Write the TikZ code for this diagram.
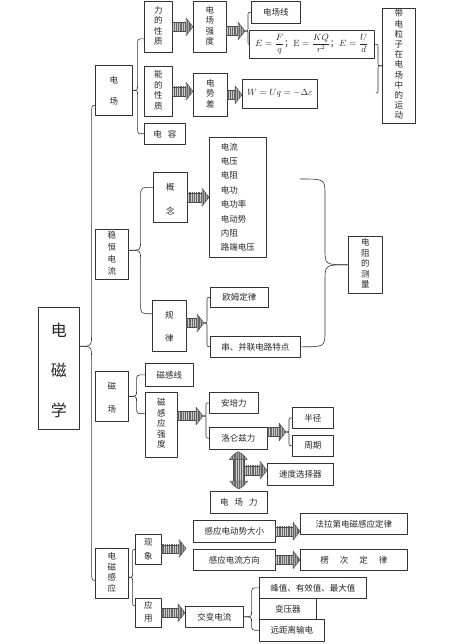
\documentclass[tikz,border=0pt]{standalone}
\usepackage{amsmath}
\usepackage{fontspec}
\newfontfamily\cjk{Noto Sans CJK SC}
\usetikzlibrary{calc}
\usetikzlibrary{patterns.meta}

\tikzset{
  box/.style={draw=black!80,line width=0.6pt,anchor=north west,inner sep=1pt,text=black!85,font=\cjk\fontsize{8.5}{10.5}\selectfont},
  brace/.style={draw=black!80,line width=0.6pt},
  arrbody/.style={fill=gray!40,postaction={pattern={Lines[angle=90,distance=1.8pt,line width=0.8pt]},pattern color=black!60},postaction={draw=black!70,line width=0.4pt}},
  arrhead/.style={arrbody,fill=gray!65}
}

% one character per line
\newcommand{\vtext}[1]{\begin{tabular}{@{}c@{}}#1\end{tabular}}
% striped block arrow, #1 start, #2 tip (same height)
\newcommand{\fatarr}[2]{%
  \path[arrbody] ($(#1)+(0,-4.5)$) rectangle ($(#2)+(-6,4.5)$);
  \path[arrhead] ($(#2)+(-7,-9)$) .. controls ($(#2)+(-3,-5)$) .. (#2) .. controls ($(#2)+(-3,5)$) .. ($(#2)+(-7,9)$) -- cycle;
}
% vertical double block arrow, #1 top tip, #2 bottom tip
\newcommand{\fatdarr}[2]{%
  \path[arrbody] ($(#1)+(-5,7)$) rectangle ($(#2)+(5,-7)$);
  \path[arrhead] ($(#1)+(-9,8)$) .. controls ($(#1)+(-5,3)$) .. (#1) .. controls ($(#1)+(5,3)$) .. ($(#1)+(9,8)$) -- cycle;
  \path[arrhead] ($(#2)+(-9,-8)$) .. controls ($(#2)+(-5,-3)$) .. (#2) .. controls ($(#2)+(5,-3)$) .. ($(#2)+(9,-8)$) -- cycle;
}
% curly brace: #1 tip, #2 top end, #3 bottom end, #4 offset of the stem, #5 curl
\newcommand{\cbrace}[5]{%
  \coordinate (bv) at ($(#1)+(#4,0)$);
  \draw[brace] (#2) .. controls (#2 -| bv) .. ($(#2 -| bv)+(0,#5)$) -- ($(bv)+(0,-#5)$) .. controls (bv) .. (#1);
  \draw[brace] (#3) .. controls (#3 -| bv) .. ($(#3 -| bv)+(0,-#5)$) -- ($(bv)+(0,#5)$) .. controls (bv) .. (#1);
}

\begin{document}
\begin{tikzpicture}[line cap=round,line join=round,x=1pt,y=-1pt]
        \fill[white] (0,0) rectangle (474,644);
        \useasboundingbox (0,0) rectangle (474,644);
        % main box
        \node[box,minimum width=41pt,minimum height=114pt,font=\cjk\fontsize{16}{40}\selectfont] (dcx) at (38,307) {\vtext{电\\磁\\学}};
        % electric field
        \node[box,minimum width=37pt,minimum height=50pt,font=\cjk\fontsize{8.5}{21}\selectfont] (dc) at (95,65) {\vtext{电\\场}};
        \node[box,minimum width=28pt,minimum height=51pt] (lixing) at (144,1) {\vtext{力\\的\\性\\质}};
        \node[box,minimum width=33pt,minimum height=51pt] (cqd) at (193,1) {\vtext{电\\场\\强\\度}};
        \node[box,minimum width=49pt,minimum height=22pt] (dcxian) at (251,1) {电场线};
        \node[box,minimum width=125pt,minimum height=28pt,font=\cjk\fontsize{9}{10.5}\selectfont] (gongshi) at (249,30) {$E=\dfrac{F}{q}$；$\mathrm{E}=\dfrac{KQ}{r^{2}}$；$E=\dfrac{U}{d}$};
        \node[box,minimum width=28pt,minimum height=50pt] (nengxing) at (144,66) {\vtext{能\\的\\性\\质}};
        \node[box,minimum width=34pt,minimum height=43pt] (dsc) at (193,73) {\vtext{电\\势\\差}};
        \node[box,minimum width=75pt,minimum height=29pt,font=\cjk\fontsize{9.5}{10.5}\selectfont] (wgs) at (242,79) {$W=Uq=-\Delta\varepsilon$};
        \node[box,minimum width=41pt,minimum height=21pt] (dr) at (144,123) {电\hspace{6pt}容};
        \node[box,minimum width=33pt,minimum height=115pt,font=\cjk\fontsize{8.5}{10.2}\selectfont] (ydlz) at (382,8) {\vtext{带\\电\\粒\\子\\在\\电\\场\\中\\的\\运\\动}};
        % steady current
        \node[box,minimum width=33pt,minimum height=50pt,font=\cjk\fontsize{8.5}{12}\selectfont] (wdl) at (95,229) {\vtext{稳\\恒\\电\\流}};
        \node[box,minimum width=34pt,minimum height=50pt,font=\cjk\fontsize{8.5}{24}\selectfont] (gn) at (153,172) {\vtext{概\\念}};
        \node[box,minimum width=57pt,minimum height=120pt,align=left,font=\cjk\fontsize{8.5}{14.4}\selectfont] (gnlist) at (209,137) {电流\\电压\\电阻\\电功\\电功率\\电动势\\内阻\\路端电压};
        \node[box,minimum width=34pt,minimum height=51pt,font=\cjk\fontsize{8.5}{23}\selectfont] (gl) at (152,300) {\vtext{规\\律}};
        \node[box,minimum width=58pt,minimum height=20pt] (om) at (210,287) {欧姆定律};
        \node[box,minimum width=90pt,minimum height=21pt] (cb) at (210,336) {串、并联电路特点};
        \node[box,minimum width=34pt,minimum height=57pt] (dzcl) at (348,236) {\vtext{电\\阻\\的\\测\\量}};
        % magnetic field
        \node[box,minimum width=33pt,minimum height=50pt,font=\cjk\fontsize{8.5}{23}\selectfont] (cc) at (95,371) {\vtext{磁\\场}};
        \node[box,minimum width=48pt,minimum height=23pt] (cgx) at (145,363) {磁感线};
        \node[box,minimum width=32pt,minimum height=65pt] (cgqd) at (145,392) {\vtext{磁\\感\\应\\强\\度}};
        \node[box,minimum width=49pt,minimum height=21pt] (apl) at (209,392) {安培力};
        \node[box,minimum width=58pt,minimum height=22pt] (llz) at (209,427) {洛仑兹力};
        \node[box,minimum width=41pt,minimum height=21pt] (bj) at (292,407) {半径};
        \node[box,minimum width=41pt,minimum height=21pt] (zq) at (292,435) {周期};
        \node[box,minimum width=66pt,minimum height=22pt] (sdxz) at (267,463) {速度选择器};
        \node[box,minimum width=57pt,minimum height=22pt] (dcl) at (210,491) {电\hspace{6pt}场\hspace{6pt}力};
        % induction
        \node[box,minimum width=33pt,minimum height=50pt] (dcgy) at (95,548) {\vtext{电\\磁\\感\\应}};
        \node[box,minimum width=26pt,minimum height=29pt,font=\cjk\fontsize{8.5}{14}\selectfont] (xx) at (135,534) {\vtext{现\\象}};
        \node[box,minimum width=26pt,minimum height=29pt,font=\cjk\fontsize{8.5}{13}\selectfont] (yy) at (135,598) {\vtext{应\\用}};
        \node[box,minimum width=82pt,minimum height=22pt] (gydds) at (193,520) {感应电动势大小};
        \node[box,minimum width=82pt,minimum height=21pt] (gydlfx) at (193,549) {感应电流方向};
        \node[box,minimum width=107pt,minimum height=21pt] (flds) at (300,513) {法拉第电磁感应定律};
        \node[box,minimum width=107pt,minimum height=21pt] (lcdl) at (300,549) {楞\hspace{11pt}次\hspace{11pt}定\hspace{11pt}律};
        \node[box,minimum width=58pt,minimum height=21pt] (jbdl) at (185,606) {交变电流};
        \node[box,minimum width=107pt,minimum height=21pt] (fz) at (259,577) {峰值、有效值、最大值};
        \node[box,minimum width=57pt,minimum height=21pt] (byq) at (259,598) {变压器};
        \node[box,minimum width=65pt,minimum height=22pt] (ycs) at (259,619) {远距离输电};

        % braces
        \coordinate (b0) at ([yshift=22pt]dcx.east);
        \coordinate (b1) at ([yshift=-15pt]dc.west);
        \coordinate (b2) at ([yshift=-7pt]dcgy.west);
        \cbrace{b0}{b1}{b2}{12}{14}
        \coordinate (c1) at ([yshift=-12pt]lixing.west);
        \cbrace{dc.east}{c1}{dr.west}{5}{6}
        \coordinate (c2) at ([yshift=4pt]wdl.east);
        \coordinate (c3) at ([yshift=10pt]gn.west);
        \coordinate (c4) at ([yshift=12pt]gl.west);
        \cbrace{c2}{c3}{c4}{12}{10}
        \coordinate (c5) at ([yshift=11pt]cgqd.west);
        \cbrace{cc.east}{cgx.west}{c5}{8}{6}
        \coordinate (c6) at ([yshift=-4pt]dcgy.east);
        \coordinate (c7) at ([yshift=7pt]yy.west);
        \cbrace{c6}{xx.west}{c7}{4}{5}
        \coordinate (e1) at (300,179);
        \cbrace{dzcl.west}{e1}{cb.east}{-23}{16}
        \coordinate (e2) at (376,93);
        \cbrace{ydlz.west}{gongshi.east}{e2}{-4}{4}

        % block arrows
        \fatarr{lixing.east}{lixing.east -| cqd.west}
        \coordinate (t2) at (245,31);
        \fatarr{cqd.east |- t2}{t2}
        \cbrace{t2}{dcxian.west}{gongshi.west}{3}{4}
        \fatarr{nengxing.east}{nengxing.east -| dsc.west}
        \fatarr{dsc.east}{dsc.east -| wgs.west}
        \fatarr{gn.east}{gn.east -| gnlist.west}
        \coordinate (t6) at (204,323);
        \fatarr{gl.east |- t6}{t6}
        \cbrace{t6}{om.west}{cb.west}{3}{4}
        \coordinate (t7) at (203,416);
        \fatarr{cgqd.east |- t7}{t7}
        \cbrace{t7}{apl.west}{llz.west}{3}{4}
        \coordinate (t8) at (286,432);
        \fatarr{llz.east |- t8}{t8}
        \cbrace{t8}{bj.west}{zq.west}{3}{4}
        \coordinate (d1) at ([yshift=-2pt]llz.south);
        \coordinate (d2) at ([yshift=2pt]dcl.north);
        \coordinate (d3) at ($(d1)!.5!(d2)$);
        \fatarr{d3}{d3 -| sdxz.west}
        \fatdarr{d1}{d2}
        \coordinate (t10) at (186,548.5);
        \fatarr{xx.east}{t10}
        \fatarr{gydds.east}{gydds.east -| flds.west}
        \fatarr{gydlfx.east}{gydlfx.east -| lcdl.west}
        \fatarr{yy.east}{yy.east -| jbdl.west}
        \cbrace{jbdl.east}{fz.west}{ycs.west}{8}{6}
\end{tikzpicture}
\end{document}
